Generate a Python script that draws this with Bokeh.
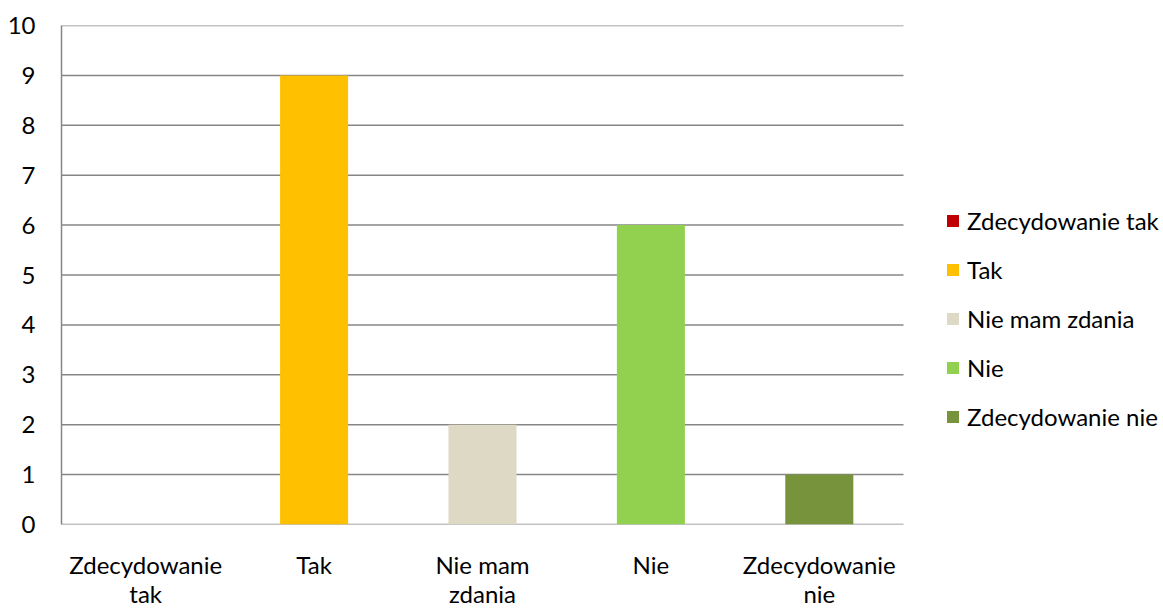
from bokeh.plotting import figure
from bokeh.models import ColumnDataSource, Range1d, FixedTicker, Legend, LegendItem
from bokeh.embed import file_html
from bokeh.resources import INLINE

categories = ["Zdecydowanie tak", "Tak", "Nie mam zdania", "Nie", "Zdecydowanie nie"]
tick_labels = ["Zdecydowanie\ntak", "Tak", "Nie mam\nzdania", "Nie", "Zdecydowanie\nnie"]
values = [0, 9, 2, 6, 1]
colors = ["#C00000", "#FFC000", "#DDD9C4", "#92D050", "#77933C"]
y_ticks = list(range(0, 11))

FONT = "Lato"
FS = "24px"
GRAY = "#868686"

W, H = 1163, 610
LEFT, TOP, BOTTOM = 61, 25, 85
PLOT_W = 842  # width of the category area in px
n = len(categories)
frame_w = W - LEFT
x_end = -0.5 + n * frame_w / PLOT_W

xs = list(range(n))
src = ColumnDataSource(dict(x=xs, top=values, color=colors, cat=categories))

p = figure(width=W, height=H, output_backend="svg", toolbar_location=None,
           x_range=Range1d(-0.5, x_end), y_range=Range1d(0, 10),
           min_border_left=LEFT, min_border_top=TOP, min_border_bottom=BOTTOM, min_border_right=0)
p.outline_line_color = None
p.background_fill_color = "white"

# horizontal gridlines spanning only the category area
p.segment(x0=[-0.5] * len(y_ticks), x1=[n - 0.5] * len(y_ticks), y0=y_ticks, y1=y_ticks,
          line_color=GRAY, line_width=1.5)

r = p.vbar(x="x", top="top", bottom=0, width=0.404, fill_color="color", line_color=None, source=src)

p.xgrid.grid_line_color = None
p.ygrid.grid_line_color = None
p.yaxis.ticker = FixedTicker(ticks=y_ticks)
p.xaxis.ticker = FixedTicker(ticks=xs)
p.xaxis.major_label_overrides = {i: t for i, t in enumerate(tick_labels)}

for ax in (p.xaxis, p.yaxis):
    ax.axis_line_color = GRAY
    ax.axis_line_width = 1.5
    ax.major_tick_line_color = None
    ax.minor_tick_line_color = None
    ax.major_label_text_font = FONT
    ax.major_label_text_font_size = FS
    ax.major_label_text_color = "black"
p.xaxis.axis_line_color = None
p.yaxis.major_label_standoff = 20
p.xaxis.major_label_standoff = 19
p.xaxis.major_label_text_line_height = 1.0

items = [LegendItem(label=c, renderers=[r], index=i) for i, c in enumerate(categories)]
legend = Legend(items=items, location=(884, 93), glyph_width=15, glyph_height=15,
                label_height=24, spacing=20, padding=0, margin=0,
                label_text_font=FONT, label_text_font_size=FS, label_text_color="black",
                border_line_color=None, background_fill_alpha=0, label_standoff=7)
p.add_layout(legend, "center")

open("out.html", "w").write(file_html(p, INLINE))
